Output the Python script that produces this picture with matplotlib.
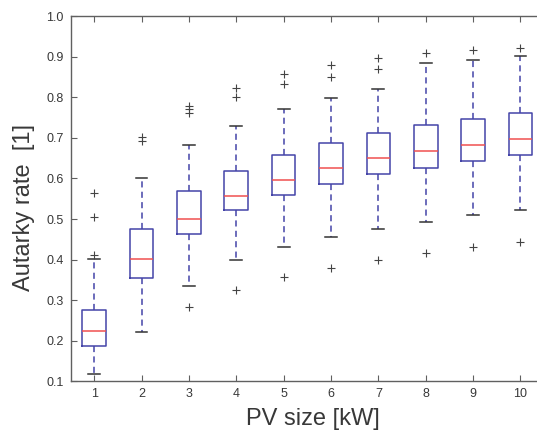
import matplotlib
matplotlib.use("Agg")
import matplotlib.pyplot as plt  # noqa: E402

# box statistics, one entry per PV size
pv_sizes = [1, 2, 3, 4, 5, 6, 7, 8, 9, 10]
q1 = [0.187, 0.356, 0.463, 0.522, 0.559, 0.587, 0.611, 0.627, 0.643, 0.658]
med = [0.224, 0.402, 0.501, 0.556, 0.596, 0.627, 0.651, 0.668, 0.683, 0.697]
q3 = [0.276, 0.475, 0.568, 0.619, 0.659, 0.688, 0.713, 0.731, 0.747, 0.761]
whislo = [0.119, 0.221, 0.336, 0.399, 0.431, 0.456, 0.476, 0.494, 0.509, 0.522]
whishi = [0.402, 0.602, 0.682, 0.730, 0.770, 0.798, 0.820, 0.884, 0.893, 0.902]
fliers = [
    [0.412, 0.506, 0.564],
    [0.693, 0.703],
    [0.283, 0.762, 0.770, 0.778],
    [0.325, 0.801, 0.824],
    [0.357, 0.832, 0.857],
    [0.380, 0.851, 0.880],
    [0.399, 0.869, 0.896],
    [0.417, 0.909],
    [0.430, 0.917],
    [0.443, 0.921],
]

stats = [dict(q1=a, med=m, q3=b, whislo=lo, whishi=hi, fliers=f, label=str(s))
         for s, a, m, b, lo, hi, f in zip(pv_sizes, q1, med, q3, whislo, whishi, fliers)]

box_c = "#4444a8"
txt_c = "#383838"
spine_c = "#606060"
font = "Liberation Sans"

fig = plt.figure(figsize=(5.37, 4.34), dpi=100)
# axes run past the right edge of the figure, as in the cropped original
ax = fig.add_axes([0.1313, 0.121, 0.882, 0.842])

ax.bxp(stats, positions=pv_sizes, widths=0.5,
       boxprops=dict(color=box_c, linewidth=1.1),
       medianprops=dict(color="#f05050", linewidth=1.1),
       whiskerprops=dict(color=box_c, linestyle=(0, (4, 2.8)), linewidth=1.1),
       capprops=dict(color="#333333", linewidth=1.1),
       flierprops=dict(marker="+", markeredgecolor="#444444", markersize=6,
                       markeredgewidth=0.8, linestyle="none"))

ax.set_xlim(0.5, 10.5)
ax.set_ylim(0.1, 1.0)
ax.set_yticks([0.1, 0.2, 0.3, 0.4, 0.5, 0.6, 0.7, 0.8, 0.9, 1.0])
ax.set_xticks(pv_sizes)
ax.set_xticklabels([str(s) for s in pv_sizes])

ax.tick_params(direction="in", top=True, right=False, length=4, width=0.8,
               color=spine_c, labelcolor=txt_c, labelsize=9, pad=5)
for lab in ax.get_xticklabels() + ax.get_yticklabels():
    lab.set_family(font)
for sp in ax.spines.values():
    sp.set_color(spine_c)
    sp.set_linewidth(1.0)
ax.spines["right"].set_visible(False)

ax.set_xlabel("PV size [kW]", fontsize=17, color=txt_c, family=font)
ax.set_ylabel("Autarky rate  [1]", fontsize=17, color=txt_c, family=font)
ax.yaxis.set_label_coords(-0.075, 0.476)
ax.xaxis.set_label_coords(0.512, -0.072)

fig.savefig("out.png", dpi=100)
